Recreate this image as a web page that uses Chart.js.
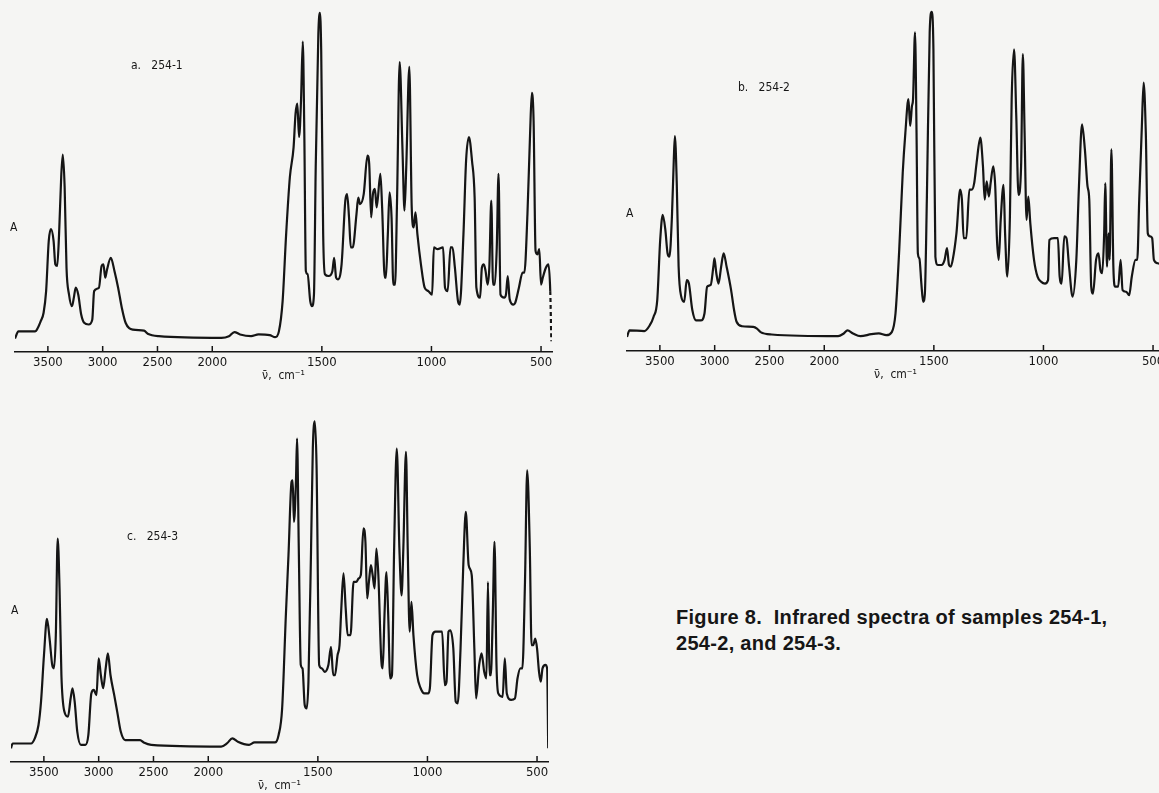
<!DOCTYPE html>
<html>
<head>
<meta charset="utf-8">
<script src="https://cdn.jsdelivr.net/npm/chart.js@4.4.1/dist/chart.umd.min.js"></script>
<style>
  html, body { margin: 0; padding: 0; }
  body {
    width: 1159px; height: 793px; overflow: hidden; position: relative;
    background: #f5f5f3; color: #161616;
    font-family: 'Liberation Sans Narrow', 'DejaVu Sans Condensed', sans-serif;
  }
  .panel { position: absolute; width: 575px; height: 385px; }
  .lbl { position: absolute; font-size: 12px; white-space: pre; }
  .caption {
    position: absolute; left: 676px; top: 604px;
    font: bold 20px 'Liberation Sans', Arial, sans-serif;
    line-height: 26px; letter-spacing: 0.3px; white-space: pre;
  }
</style>
</head>
<body>
<div class="panel" style="left:0;top:0"><canvas id="specA"></canvas></div>
<div class="panel" style="left:612px;top:0;height:384px"><canvas id="specB"></canvas></div>
<div class="panel" style="left:0;top:410px"><canvas id="specC"></canvas></div>

<div class="lbl" style="left:131px;top:58px">a.   254-1</div>
<div class="lbl" style="left:738px;top:80px">b.   254-2</div>
<div class="lbl" style="left:127px;top:529px">c.   254-3</div>
<div class="lbl" style="left:10px;top:220px">A</div>
<div class="lbl" style="left:626px;top:206px">A</div>
<div class="lbl" style="left:11px;top:603px">A</div>

<div class="caption">Figure 8.  Infrared spectra of samples 254-1,
254-2, and 254-3.</div>

<script>
// wavenumbers (cm-1) and absorbance (arbitrary, 0-100)
const tickWaves = [3500, 3000, 2500, 2000, 1500, 1000, 500];

const aWave = [3800,3769,3617,3600,3566,3539,3516,3492,3472,3448,3432,3415,3398,3378,3364,3347,3330,3307,3280,3263,3246,3223,3196,3169,3128,3095,3078,3034,3010,2993,2977,2960,2926,2892,2859,2825,2791,2724,2623,2589,2488,1958,1924,1899,1873,1823,1789,1738,1713,1696,1679,1663,1646,1629,1620,1612,1604,1595,1587,1580,1573,1565,1553,1545,1536,1528,1516,1509,1503,1494,1486,1469,1452,1444,1435,1427,1410,1393,1385,1376,1368,1359,1342,1334,1326,1309,1292,1284,1275,1267,1258,1250,1233,1225,1213,1208,1199,1191,1182,1174,1166,1157,1145,1132,1123,1115,1101,1090,1081,1073,1064,1048,1031,1014,997,989,972,947,938,926,913,904,893,879,871,854,842,829,815,803,795,778,770,761,753,744,736,727,719,711,702,694,685,668,660,652,643,626,618,601,584,576,562,550,542,534,525,517,508,500,492,478,466,458,453];
const aAbs = [3.9,6.0,6.0,6.5,8.9,11.4,17.7,32.3,35.7,32.3,25.5,25.0,34.2,51.2,57.4,47.9,24.5,16.7,13.3,15.8,18.7,16.7,10.9,8.5,8.0,9.4,17.7,18.7,25.0,25.5,21.6,24.0,27.4,23.5,18.7,12.8,8.5,6.5,6.2,5.3,4.6,4.1,4.6,5.8,5.1,4.6,5.1,4.9,4.3,6.0,14.8,34.2,50.8,59.5,69.3,72.2,62.5,73.2,90.2,63.4,23.5,22.6,14.8,13.3,16.7,53.7,92.6,98.6,87.7,34.2,22.6,22.1,23.5,27.4,21.6,21.1,25.5,44.0,45.9,39.1,30.4,30.4,40.1,44.9,43.0,45.9,57.1,54.7,39.1,45.9,47.4,42.0,51.8,42.0,21.6,21.6,34.2,46.4,39.1,19.6,19.6,44.0,84.3,58.6,41.1,53.7,82.9,42.0,36.2,40.6,34.2,25.5,18.7,17.7,16.7,30.4,29.9,30.4,18.7,17.7,30.4,30.4,24.5,14.8,13.8,34.2,55.6,62.5,55.6,44.9,18.7,15.8,24.5,25.5,23.5,19.6,24.5,44.0,19.6,19.6,30.4,51.8,16.7,15.8,16.7,22.1,15.3,13.8,14.3,18.7,23.1,23.1,40.1,63.4,75.3,67.3,29.4,28.4,29.9,19.6,21.6,24.5,25.5,17.7,3.1];

const bWave = [3800,3777,3642,3592,3558,3524,3497,3474,3450,3430,3413,3390,3373,3363,3346,3329,3305,3278,3255,3235,3204,3170,3127,3093,3069,3036,3012,3002,2985,2965,2941,2918,2891,2850,2823,2800,2749,2648,2614,2581,2480,1937,1911,1894,1869,1835,1785,1751,1717,1692,1675,1658,1642,1630,1616,1608,1600,1595,1586,1579,1573,1566,1557,1549,1541,1532,1519,1510,1502,1493,1482,1465,1451,1440,1431,1423,1414,1397,1380,1372,1364,1352,1338,1327,1316,1305,1288,1276,1268,1259,1249,1241,1229,1220,1212,1204,1195,1182,1175,1165,1153,1145,1134,1124,1114,1102,1094,1086,1077,1069,1060,1043,1027,1010,993,979,973,951,934,926,917,905,895,883,867,850,838,824,811,799,791,782,774,760,749,740,732,723,718,710,703,698,690,681,673,659,648,639,622,609,597,580,572,563,551,543,533,524,513,504,496,479,450];
const bAbs = [4.1,6.0,5.8,7.5,9.9,14.8,32.3,39.6,35.2,28.4,27.4,39.1,55.6,62.5,48.8,24.5,15.8,14.3,20.6,19.6,11.9,8.9,8.9,10.9,18.7,19.2,24.5,26.9,22.6,19.6,24.5,28.4,24.5,17.7,11.9,8.5,7.2,7.0,6.5,5.5,4.8,4.3,5.1,6.0,5.1,4.3,4.9,5.1,4.6,5.5,10.9,29.4,51.8,63.4,73.2,65.4,71.2,73.2,92.6,63.4,28.4,26.9,19.6,14.3,16.7,44.0,92.6,98.6,87.7,27.4,25.0,25.0,26.5,29.9,25.0,24.5,26.5,34.2,46.9,44.0,32.8,32.8,46.9,46.9,48.8,54.7,62.0,53.7,44.0,49.3,44.9,48.8,53.7,47.9,32.3,26.5,38.1,48.3,34.2,21.6,39.1,73.2,87.7,68.3,45.4,53.7,86.3,63.4,38.1,44.9,37.2,26.5,21.6,20.1,19.6,20.6,32.3,32.8,32.8,21.6,19.6,33.3,32.8,24.5,15.8,26.5,47.9,65.9,58.6,47.9,44.0,18.7,16.7,26.5,28.4,23.5,22.6,34.2,48.8,24.5,34.2,26.5,58.6,24.5,18.7,18.7,26.5,17.7,17.2,16.2,21.6,26.5,26.5,44.0,65.4,78.0,63.4,34.2,33.3,32.8,26.5,25.5,25.0];

const cWave = [3800,3785,3617,3583,3549,3526,3499,3472,3448,3424,3408,3391,3374,3357,3340,3313,3280,3256,3239,3219,3195,3162,3121,3094,3067,3044,3020,3000,2980,2959,2936,2916,2892,2858,2831,2798,2757,2622,2589,2521,1941,1915,1890,1865,1814,1789,1696,1679,1663,1646,1634,1620,1615,1609,1600,1595,1587,1578,1570,1560,1551,1543,1531,1523,1514,1506,1494,1482,1469,1452,1440,1430,1422,1410,1401,1393,1383,1373,1364,1351,1337,1325,1314,1304,1292,1283,1275,1267,1258,1250,1241,1233,1224,1211,1204,1196,1187,1179,1170,1162,1152,1140,1128,1118,1110,1098,1090,1081,1073,1064,1047,1031,1014,997,989,977,963,933,921,913,904,896,882,871,862,849,837,825,812,798,786,778,764,753,741,731,724,717,711,702,694,685,677,657,647,638,618,601,589,576,567,555,545,533,525,517,508,500,491,483,475,461,454,449];
const cAbs = [4.0,5.4,5.4,6.9,10.8,17.6,31.2,41.7,36.0,28.3,27.3,37.0,65.1,50.6,25.3,14.7,13.2,18.5,21.5,17.6,8.8,5.0,5.0,7.9,20.0,21.0,19.5,30.2,25.3,21.5,27.3,31.7,25.3,19.5,14.7,8.8,6.4,6.4,5.7,5.0,4.5,5.4,6.9,5.9,5.0,5.7,5.7,7.9,15.6,42.8,60.3,81.7,82.1,70.0,81.7,94.3,62.2,28.3,27.3,16.6,15.6,23.4,62.2,91.4,99.3,86.5,28.3,27.3,26.3,28.3,33.6,25.3,25.3,31.2,34.1,44.8,55.0,44.8,37.0,37.0,52.5,52.5,53.5,54.5,68.1,64.2,47.7,52.5,57.4,54.5,50.6,62.2,54.5,30.2,27.3,42.8,55.4,42.8,24.4,25.3,62.2,91.4,62.2,48.6,62.2,90.4,62.2,38.0,46.7,37.0,25.3,21.5,20.0,20.0,21.5,37.0,38.0,38.0,22.4,23.4,38.0,38.4,33.1,17.6,17.1,33.1,56.4,72.9,57.4,54.5,33.1,18.5,28.3,31.7,26.3,24.4,52.5,25.3,25.3,42.8,64.2,28.3,20.0,19.0,30.2,20.0,18.1,18.5,24.4,27.3,27.3,52.5,85.0,62.2,34.1,34.1,36.0,33.1,26.3,23.4,27.3,28.3,27.3,4.0];

const INK = '#151515';
const NARROW = "'Liberation Sans Narrow', 'DejaVu Sans Condensed', sans-serif";

// IR chart paper: below 2000 cm-1 the scale is twice as wide
const BREAK = 2000;
class WaveScale extends Chart.LinearScale {
  warp(v) { return v > BREAK ? v + BREAK : 2 * v; }
  unwarp(u) { return u > 2 * BREAK ? u - BREAK : u / 2; }
  buildTicks() {
    super.buildTicks();
    return tickWaves.map(value => ({ value }));
  }
  getPixelForValue(value) {
    const lo = this.warp(this.min), hi = this.warp(this.max);
    return this.getPixelForDecimal((this.warp(value) - lo) / (hi - lo));
  }
  getValueForPixel(pixel) {
    const lo = this.warp(this.min), hi = this.warp(this.max);
    return this.unwarp(lo + this.getDecimalForPixel(pixel) * (hi - lo));
  }
}
WaveScale.id = 'wave';
WaveScale.defaults = Chart.LinearScale.defaults;
Chart.register(WaveScale);

// tick marks stand up from the axis line
const innerTicks = {
  id: 'innerTicks',
  afterDraw(chart) {
    const s = chart.scales.x, ctx = chart.ctx;
    ctx.save();
    ctx.strokeStyle = INK;
    ctx.lineWidth = 1.5;
    s.ticks.forEach((t, i) => {
      const x = s.getPixelForTick(i);
      ctx.beginPath();
      ctx.moveTo(x, s.top);
      ctx.lineTo(x, s.top - 6);
      ctx.stroke();
    });
    ctx.restore();
  }
};

function spectrum(id, waves, abs, padding, dashedEnd) {
  const last = waves.length - 2;
  new Chart(document.getElementById(id), {
    type: 'line',
    data: {
      datasets: [{
        data: waves.map((w, i) => ({ x: w, y: abs[i] })),
        borderColor: INK,
        borderWidth: 2.2,
        pointRadius: 0,
        fill: false,
        cubicInterpolationMode: 'monotone',
        segment: {
          borderDash: ctx => (dashedEnd && ctx.p0DataIndex === last ? [4, 3] : undefined)
        }
      }]
    },
    options: {
      responsive: true,
      maintainAspectRatio: false,
      animation: false,
      layout: { padding },
      plugins: { legend: { display: false }, tooltip: { enabled: false } },
      scales: {
        x: {
          type: 'wave',
          min: 450,
          max: 3800,
          reverse: true,
          afterFit: s => { s.height = 33; },
          grid: { display: false, drawTicks: false },
          border: { display: true, color: INK, width: 1.6 },
          ticks: {
            autoSkip: false,
            maxRotation: 0,
            padding: 3,
            color: INK,
            font: { family: NARROW, size: 13 },
            callback: v => String(v)
          },
          title: {
            display: true,
            text: 'ν̄,  cm⁻¹',
            color: INK,
            font: { family: NARROW, size: 12 },
            padding: { top: 0, bottom: 2 }
          }
        },
        y: { display: false, min: 0, max: 100 }
      }
    },
    plugins: [innerTicks]
  });
}

spectrum('specA', aWave, aAbs, { left: 15, right: 23, top: 8, bottom: 0 }, true);
spectrum('specB', bWave, bAbs, { left: 15, right: 23, top: 7, bottom: 0 }, false);
spectrum('specC', cWave, cAbs, { left: 11, right: 27, top: 9, bottom: 0 }, false);
</script>
</body>
</html>
